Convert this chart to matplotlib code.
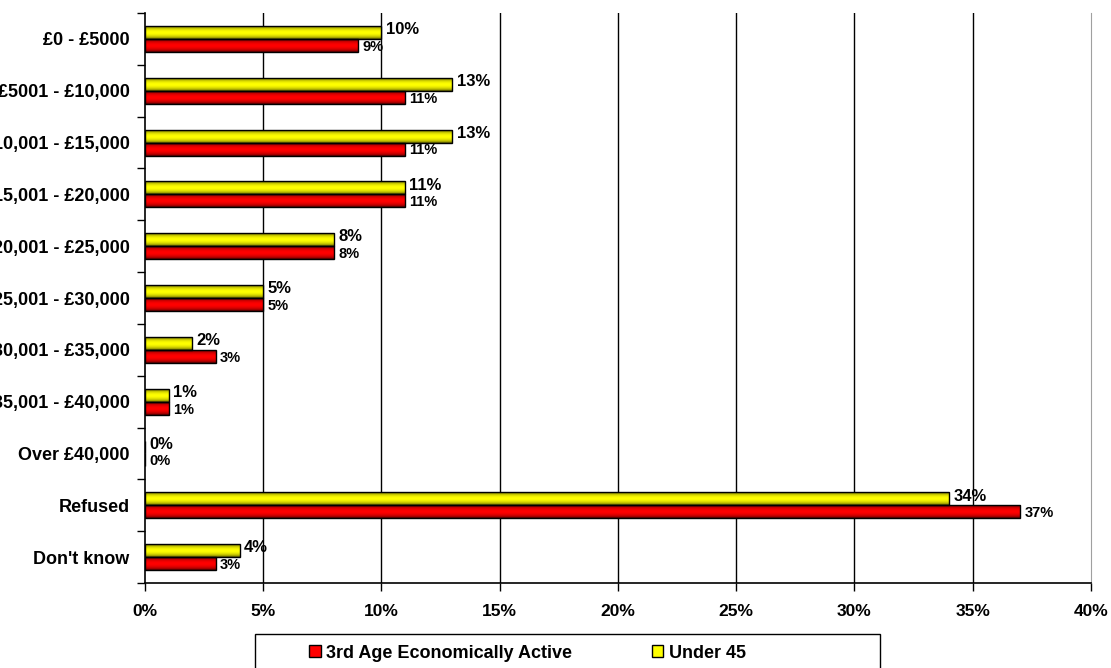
import matplotlib.pyplot as plt
from matplotlib.patches import Rectangle
import numpy as np

categories = ["£0 - £5000", "£5001 - £10,000", "£10,001 - £15,000", "£15,001 - £20,000",
              "£20,001 - £25,000", "£25,001 - £30,000", "£30,001 - £35,000",
              "£35,001 - £40,000", "Over £40,000", "Refused", "Don't know"]
third_age = [9, 11, 11, 11, 8, 5, 3, 1, 0, 37, 3]
under_45 = [10, 13, 13, 11, 8, 5, 2, 1, 0, 34, 4]
xticks = [0, 5, 10, 15, 20, 25, 30, 35, 40]

plt.rcParams['font.family'] = ['Liberation Sans', 'DejaVu Sans']
plt.rcParams['font.weight'] = 'bold'

W, H = 1111, 668
fig = plt.figure(figsize=(W / 100, H / 100), dpi=100)
ax = fig.add_axes([0.1305, 0.1272, 0.8515, 0.8533])

y = np.arange(len(categories))
h = 0.25
yel = ax.barh(y - h / 2, under_45, height=h, color="#ffff00", edgecolor="black", linewidth=1,
              zorder=3, label="Under 45")
red = ax.barh(y + h / 2, third_age, height=h, color="#ff0000", edgecolor="black", linewidth=1,
              zorder=3, label="3rd Age Economically Active")

# legend first, so the handles keep their solid colours
handles, labels = ax.get_legend_handles_labels()
leg = fig.legend(handles[::-1], labels[::-1], ncol=2, loc="center left",
                 bbox_to_anchor=(309 / W, 1 - 653 / H), frameon=False, fontsize=13,
                 handlelength=0.65, handleheight=0.65, handletextpad=0.3, borderpad=0,
                 borderaxespad=0, columnspacing=4.4)
for p in leg.get_patches():
    p.set_linewidth(1)
fig.patches.append(Rectangle((255 / W, -0.01), 625 / W, 1 - 634 / H + 0.01,
                             transform=fig.transFigure, facecolor="none",
                             edgecolor="black", linewidth=1))

# cylinder-like shading on each bar
tt = np.linspace(0, 1, 32)
shade = 0.3 + 0.7 * np.sin(np.pi * tt) ** 0.6
for bars, rgb in ((yel, (1, 1, 0)), (red, (1, 0, 0))):
    grad = shade[:, None, None] * np.array(rgb)[None, None, :]
    for p in bars.patches:
        if p.get_width() <= 0:
            continue
        x0, y0 = p.get_x(), p.get_y()
        im = ax.imshow(grad, extent=[x0, x0 + p.get_width(), y0 + p.get_height(), y0],
                       aspect="auto", interpolation="bilinear", zorder=3.5)
        im.set_clip_path(p)
        p.set_facecolor("none")
        p.set_zorder(3.6)

for i in range(len(categories)):
    ax.annotate(f"{under_45[i]}%", (under_45[i], y[i] - h / 2), xytext=(3, 2),
                textcoords="offset points", va="center", ha="left", fontsize=12, zorder=4)
    ax.annotate(f"{third_age[i]}%", (third_age[i], y[i] + h / 2), xytext=(3, -1),
                textcoords="offset points", va="center", ha="left", fontsize=10.5, zorder=4)

ax.set_xlim(0, 40)
ax.set_ylim(len(categories) - 0.5, -0.5)
ax.set_xticks(xticks)
ax.set_xticklabels([f"{t}%" for t in xticks], fontsize=12.5)
ax.set_yticks(y)
ax.set_yticklabels(categories, fontsize=13)
ax.set_yticks(np.arange(-0.5, len(categories)), minor=True)
ax.tick_params(axis="y", which="major", length=0, pad=11)
ax.tick_params(axis="y", which="minor", length=6, width=1, direction="out")
ax.tick_params(axis="x", length=6, width=1, direction="out", pad=9)

for tk in xticks[1:-1]:
    ax.axvline(tk, color="black", linewidth=1, zorder=1)
ax.spines["top"].set_visible(False)
ax.spines["right"].set_color("#a0a0a0")
ax.spines["left"].set_linewidth(1.2)
ax.spines["bottom"].set_linewidth(1.2)

fig.savefig("out.png", dpi=100)
